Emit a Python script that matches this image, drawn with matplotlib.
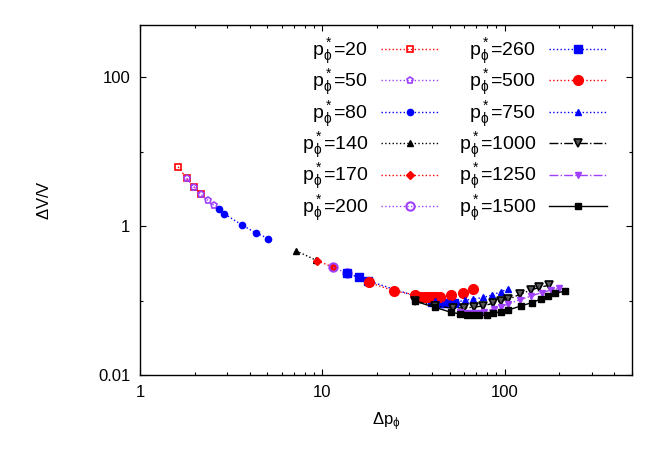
import matplotlib
matplotlib.use("Agg")
import matplotlib.pyplot as plt

plt.rcParams["font.family"] = ["Liberation Sans", "DejaVu Sans"]
plt.rcParams["mathtext.fontset"] = "custom"
plt.rcParams["mathtext.rm"] = "Liberation Sans"
plt.rcParams["mathtext.it"] = "Liberation Sans"
plt.rcParams["mathtext.sf"] = "Liberation Sans"

# p*_phi = 20 ... 1500 : (delta p_phi, delta V / V)
p20_x = [1.62, 1.80, 1.99, 2.16]
p20_y = [6.25, 4.37, 3.30, 2.67]
p50_x = [1.80, 1.99, 2.16, 2.35, 2.54]
p50_y = [4.37, 3.30, 2.67, 2.23, 1.90]
p80_x = [2.71, 2.90, 3.61, 4.31, 5.06]
p80_y = [1.67, 1.46, 1.04, 0.81, 0.68]
p140_x = [7.17, 9.2]
p140_y = [0.466, 0.350]
p170_x = [9.39, 11.5]
p170_y = [0.342, 0.279]
p200_x = [11.5, 13.6]
p200_y = [0.279, 0.232]
p260_x = [13.6, 15.8, 17.9, 40.0, 44.0, 47.0, 50.0, 53.0]
p260_y = [0.232, 0.205, 0.183, 0.097, 0.093, 0.092, 0.092, 0.093]
p500_x = [17.96, 24.8, 32.2, 34.5, 36.0, 37.5, 39.0, 40.5, 42.0, 44.0, 50.8, 59.4, 67.3]
p500_y = [0.175, 0.135, 0.119, 0.113, 0.112, 0.112, 0.112, 0.112, 0.112, 0.113, 0.119, 0.127, 0.143]
p750_x = [41.5, 50.0, 55.0, 60.6, 67.3, 76.4, 85.6, 95.2, 104.8]
p750_y = [0.098, 0.092, 0.095, 0.1016, 0.104, 0.110, 0.1186, 0.131, 0.1426]
p1000_x = [32.2, 41.5, 51.9, 60.0, 68.0, 76.4, 86.7, 95.2, 104.8, 121.5, 139.0, 155.0, 175.0]
p1000_y = [0.098, 0.085, 0.079, 0.080, 0.081, 0.0851, 0.0917, 0.0994, 0.1038, 0.121, 0.138, 0.150, 0.160]
p1250_x = [57.0, 62.0, 67.0, 72.0, 77.0, 87.0, 96.0, 105.0, 122.0, 140.0, 160.0, 180.0, 200.0]
p1250_y = [0.0695, 0.068, 0.068, 0.069, 0.071, 0.077, 0.083, 0.090, 0.103, 0.115, 0.128, 0.138, 0.146]
p1500_x = [32.2, 41.5, 50.8, 57.0, 62.0, 67.0, 72.0, 80.0, 86.0, 95.5, 104.8, 122.5, 140.8, 157.9, 173.7, 190.0, 214.0]
p1500_y = [0.098, 0.081, 0.0695, 0.066, 0.064, 0.063, 0.063, 0.064, 0.0673, 0.0708, 0.0745, 0.0844, 0.0934, 0.1047, 0.116, 0.125, 0.134]

purple = "#a040ff"

series = [
    ("20", p20_x, p20_y, dict(color="red", ls=":", marker="s", ms=5, mfc="none", mew=1.2)),
    ("50", p50_x, p50_y, dict(color=purple, ls=":", marker="p", ms=5, mfc="none", mew=1.2)),
    ("80", p80_x, p80_y, dict(color="blue", ls=":", marker="o", ms=4.5)),
    ("140", p140_x, p140_y, dict(color="black", ls=":", marker="^", ms=5)),
    ("170", p170_x, p170_y, dict(color="red", ls=":", marker="D", ms=4.5)),
    ("200", p200_x, p200_y, dict(color=purple, ls=":", marker="o", ms=6, mfc="none", mew=1.5)),
    ("260", p260_x, p260_y, dict(color="blue", ls=":", marker="s", ms=6)),
    ("500", p500_x, p500_y, dict(color="red", ls=":", marker="o", ms=7)),
    ("750", p750_x, p750_y, dict(color="blue", ls=":", marker="^", ms=5)),
    ("1000", p1000_x, p1000_y, dict(color="black", ls="-.", marker="v", ms=6, mfc="#555555", mew=1.2)),
    ("1250", p1250_x, p1250_y, dict(color=purple, ls="-.", marker="v", ms=5)),
    ("1500", p1500_x, p1500_y, dict(color="black", ls="-", marker="s", ms=5)),
]

fig = plt.figure(figsize=(6.64, 4.65), dpi=100)
ax = fig.add_axes([140 / 664, 1 - 375 / 465, 492 / 664, 350 / 465])

for name, xs, ys, kw in series:
    ax.plot(xs, ys, lw=1.0, label=r"p$_\phi^*$=" + name, **kw)

ax.set_xscale("log")
ax.set_yscale("log")
ax.set_xlim(1, 500)
ax.set_ylim(0.01, 500)
ax.set_xticks([1, 10, 100])
ax.set_xticklabels(["1", "10", "100"])
ax.set_yticks([0.01, 1, 100])
ax.set_yticklabels(["0.01", "1", "100"])
ax.set_yticks([0.1, 10], minor=True)
ax.set_yticklabels([], minor=True)
ax.tick_params(which="both", direction="in", top=True, right=True, labelsize=12)
ax.tick_params(which="major", length=4.5, width=0.8, pad=7)
ax.tick_params(which="minor", length=2.5, width=0.8)
for s in ax.spines.values():
    s.set_linewidth(1.0)

ax.set_xlabel(r"$\Delta$p$_\phi$", fontsize=12, labelpad=8)
ax.set_ylabel(r"$\Delta$V/V", fontsize=12)
ax.yaxis.set_label_coords(-0.179, 0.5)

ax.legend(loc="upper right", bbox_to_anchor=((607 - 140) / 492, 0.967), ncol=2, frameon=False,
          markerfirst=False, fontsize=14, handlelength=3.0, handletextpad=0.65,
          columnspacing=1.0, labelspacing=0.07, borderpad=0, borderaxespad=0)

fig.savefig("out.png", dpi=100)
